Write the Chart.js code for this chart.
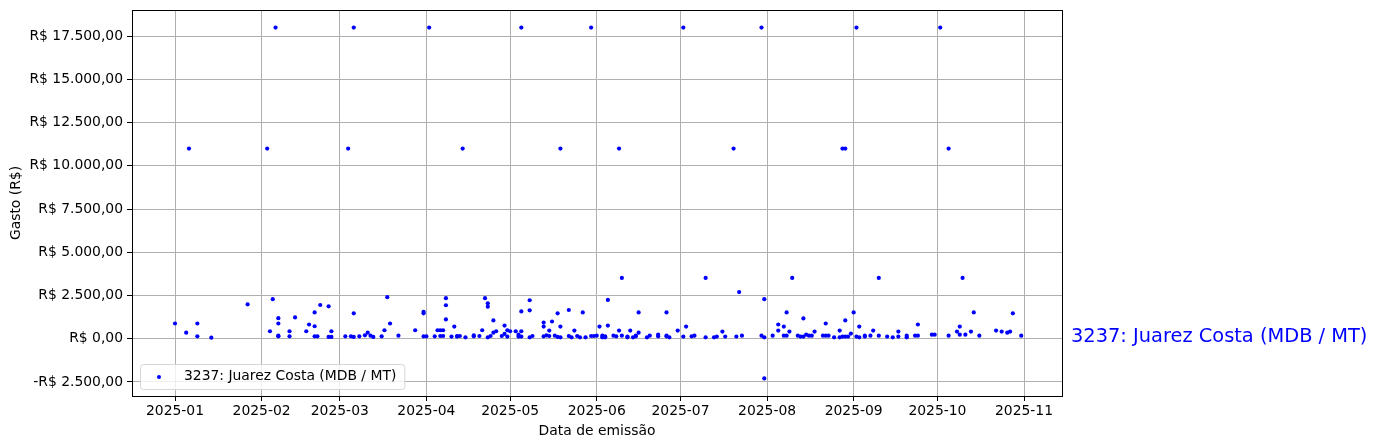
<!DOCTYPE html>
<html>
<head>
<meta charset="utf-8">
<script src="https://cdn.jsdelivr.net/npm/chart.js@4.4.0/dist/chart.umd.min.js"></script>
<style>
  html, body { margin: 0; padding: 0; background: #fff; }
  #wrap { width: 1378px; height: 448px; }
</style>
</head>
<body>
<div id="wrap"><canvas id="chart" width="1378" height="448"></canvas></div>
<script>
const seriesName = '3237: Juarez Costa (MDB / MT)';

const emissionDates = [
  '2025-01-01','2025-01-05','2025-01-06','2025-01-09','2025-01-09','2025-01-14','2025-01-27',
  '2025-02-03','2025-02-04','2025-02-05','2025-02-06','2025-02-07','2025-02-07','2025-02-07','2025-02-07',
  '2025-02-11','2025-02-11','2025-02-13','2025-02-17','2025-02-18','2025-02-20','2025-02-20','2025-02-20',
  '2025-02-21','2025-02-22','2025-02-25','2025-02-25','2025-02-26','2025-02-26',
  '2025-03-03','2025-03-04','2025-03-05','2025-03-06','2025-03-06','2025-03-06','2025-03-08','2025-03-10',
  '2025-03-11','2025-03-12','2025-03-13','2025-03-16','2025-03-17','2025-03-18','2025-03-19','2025-03-22',
  '2025-03-28','2025-03-31','2025-03-31','2025-03-31',
  '2025-04-01','2025-04-02','2025-04-04','2025-04-05','2025-04-06','2025-04-06','2025-04-07','2025-04-07',
  '2025-04-08','2025-04-08','2025-04-08','2025-04-10','2025-04-11','2025-04-12','2025-04-12','2025-04-13',
  '2025-04-14','2025-04-15','2025-04-18','2025-04-18','2025-04-20','2025-04-21','2025-04-22','2025-04-23',
  '2025-04-23','2025-04-23','2025-04-24','2025-04-25','2025-04-25','2025-04-26','2025-04-28','2025-04-29',
  '2025-04-29','2025-04-30','2025-04-30',
  '2025-05-01','2025-05-03','2025-05-04','2025-05-04','2025-05-05','2025-05-05','2025-05-05','2025-05-05',
  '2025-05-08','2025-05-08','2025-05-08','2025-05-09','2025-05-13','2025-05-13','2025-05-13','2025-05-14',
  '2025-05-15','2025-05-15','2025-05-16','2025-05-17','2025-05-18','2025-05-18','2025-05-19','2025-05-19',
  '2025-05-19','2025-05-22','2025-05-22','2025-05-23','2025-05-24','2025-05-25','2025-05-26','2025-05-27',
  '2025-05-28','2025-05-30','2025-05-30','2025-05-31',
  '2025-06-01','2025-06-02','2025-06-03','2025-06-03','2025-06-04','2025-06-04','2025-06-05','2025-06-05',
  '2025-06-07','2025-06-08','2025-06-09','2025-06-09','2025-06-10','2025-06-10','2025-06-12','2025-06-12',
  '2025-06-13','2025-06-14','2025-06-15','2025-06-15','2025-06-16','2025-06-16','2025-06-19','2025-06-20',
  '2025-06-23','2025-06-23','2025-06-26','2025-06-26','2025-06-27','2025-06-26','2025-06-30',
  '2025-07-02','2025-07-02','2025-07-03','2025-07-05','2025-07-06','2025-07-10','2025-07-10','2025-07-13',
  '2025-07-14','2025-07-16','2025-07-17','2025-07-20','2025-07-21','2025-07-22','2025-07-23','2025-07-30',
  '2025-07-30','2025-07-31','2025-07-31','2025-07-31',
  '2025-08-03','2025-08-05','2025-08-05','2025-08-07','2025-08-07','2025-08-08','2025-08-08','2025-08-09',
  '2025-08-10','2025-08-12','2025-08-13','2025-08-14','2025-08-14','2025-08-15','2025-08-16','2025-08-17',
  '2025-08-18','2025-08-21','2025-08-22','2025-08-22','2025-08-23','2025-08-25','2025-08-27','2025-08-27',
  '2025-08-28','2025-08-28','2025-08-29','2025-08-29','2025-08-29','2025-08-30','2025-08-31',
  '2025-09-01','2025-09-02','2025-09-02','2025-09-03','2025-09-03','2025-09-05','2025-09-05','2025-09-07',
  '2025-09-08','2025-09-10','2025-09-10','2025-09-13','2025-09-15','2025-09-17','2025-09-17','2025-09-20',
  '2025-09-20','2025-09-23','2025-09-24','2025-09-24','2025-09-29','2025-09-30',
  '2025-10-02','2025-10-05','2025-10-05','2025-10-08','2025-10-09','2025-10-09','2025-10-10','2025-10-11',
  '2025-10-13','2025-10-14','2025-10-16','2025-10-22','2025-10-24','2025-10-26','2025-10-27','2025-10-28',
  '2025-10-31'
];

const amounts = [
  880, 350, 11000, 880, 140, 60, 1990,
  11000, 430, 2285, 18000, 1190, 880, 175, 140,
  430, 140, 1230, 430, 820, 1520, 720, 140,
  140, 1950, 1875, 100, 430, 100,
  140, 11000, 140, 100, 1465, 18000, 140, 195,
  350, 175, 100, 140, 490, 2400, 880, 175,
  490, 1560, 1465, 140,
  140, 18000, 140, 490, 490, 155, 490, 155,
  2345, 1935, 1115, 120, 700, 120, 155, 155,
  11000, 80, 195, 140, 155, 490, 2345, 2050,
  1855, 80, 155, 1055, 350, 430, 155, 760,
  275, 120, 490,
  430, 430, 235, 120, 18000, 1580, 430, 120,
  2225, 1640, 80, 155, 700, 935, 140, 195,
  155, 470, 995, 175, 1465, 100, 11000, 80,
  700, 1660, 155, 80, 470, 155, 80, 1520,
  80, 18000, 155, 155,
  175, 700, 80, 175, 80, 140, 2245, 760,
  175, 140, 11000, 470, 3515, 175, 120, 80,
  470, 80, 140, 175, 350, 1520, 80, 175,
  235, 140, 175, 140, 80, 1520, 470,
  120, 18000, 700, 140, 175, 3515, 80, 80,
  120, 410, 120, 11000, 120, 2695, 175, 18000,
  175, 2285, 80, -2300,
  175, 820, 470, 700, 175, 175, 1520, 410,
  3515, 175, 120, 120, 1170, 235, 175, 175,
  410, 175, 175, 880, 175, 80, 80, 470,
  120, 11000, 11000, 120, 1055, 120, 295,
  1520, 18000, 120, 700, 80, 175, 120, 175,
  470, 3515, 175, 120, 80, 120, 410, 175,
  80, 175, 175, 820, 235, 235,
  18000, 11000, 175, 410, 700, 235, 3515, 235,
  410, 1520, 175, 470, 410, 350, 410, 1465,
  175
];

const monthTicks = ['2025-01-01','2025-02-01','2025-03-01','2025-04-01','2025-05-01','2025-06-01',
  '2025-07-01','2025-08-01','2025-09-01','2025-10-01','2025-11-01'];
const yTicks = [-2500, 0, 2500, 5000, 7500, 10000, 12500, 15000, 17500];

const DAY = 864e5;
const origin = Date.UTC(2025, 0, 1);
const toDay = s => {
  const [y, m, d] = s.split('-').map(Number);
  return (Date.UTC(y, m - 1, d) - origin) / DAY;
};
const monthDays = monthTicks.map(toDay);

const formatBRL = v => {
  const abs = Math.abs(v);
  const whole = Math.floor(abs).toString().replace(/\B(?=(\d{3})+(?!\d))/g, '.');
  const cents = Math.round((abs - Math.floor(abs)) * 100).toString().padStart(2, '0');
  return (v < 0 ? '-' : '') + 'R$ ' + whole + ',' + cents;
};

const FONT = 'DejaVu Sans';
Chart.defaults.font.family = FONT;
Chart.defaults.font.size = 13.9;
Chart.defaults.color = '#000';

// frame, in-axes legend and the label right of the axes
const decorations = {
  id: 'decorations',
  afterDraw(chart) {
    const { ctx, chartArea: a } = chart;
    ctx.save();
    ctx.strokeStyle = '#000';
    ctx.lineWidth = 1;
    ctx.strokeRect(Math.round(a.left) + 0.5, Math.round(a.top) + 0.5,
      Math.round(a.right - a.left), Math.round(a.bottom - a.top));

    // legend box
    ctx.font = '13.9px ' + FONT;
    const tw = ctx.measureText(seriesName).width;
    const bx = a.left + 8, by = a.bottom - 32, bw = tw + 52, bh = 25;
    ctx.beginPath();
    ctx.roundRect(bx + 0.5, by + 0.5, bw, bh, 3);
    ctx.fillStyle = 'rgba(255,255,255,0.8)';
    ctx.fill();
    ctx.strokeStyle = '#d6d6d6';
    ctx.stroke();
    ctx.fillStyle = '#0000ff';
    ctx.beginPath();
    ctx.arc(bx + 19, by + 13, 2, 0, Math.PI * 2);
    ctx.fill();
    ctx.fillStyle = '#000';
    ctx.textBaseline = 'middle';
    ctx.fillText(seriesName, bx + 44, by + 12);

    // outside label
    const yScale = chart.scales.y;
    ctx.font = '19.4px ' + FONT;
    ctx.fillStyle = '#0000ff';
    ctx.fillText(seriesName, a.right + 9, yScale.getPixelForValue(amounts[amounts.length - 1]) + 1);
    ctx.restore();
  }
};

new Chart(document.getElementById('chart'), {
  type: 'scatter',
  data: {
    datasets: [{
      label: seriesName,
      data: emissionDates.map((d, i) => ({ x: toDay(d), y: amounts[i] })),
      pointRadius: 2.1,
      pointBorderWidth: 0,
      pointBackgroundColor: '#0000ff',
      pointHoverRadius: 2.1
    }]
  },
  options: {
    responsive: false,
    animation: false,
    layout: { padding: { left: 0, right: 316, top: 10, bottom: 0 } },
    plugins: { legend: { display: false }, tooltip: { enabled: false } },
    scales: {
      x: {
        type: 'linear',
        min: -15.4,
        max: 317.6,
        afterBuildTicks: s => { s.ticks = monthDays.map(v => ({ value: v })); },
        afterFit: s => { s.height = 52; s.paddingLeft = 0; s.paddingRight = 0; },
        ticks: {
          autoSkip: false,
          maxRotation: 0,
          padding: 2,
          callback: v => {
            const i = monthDays.indexOf(v);
            return i >= 0 ? monthTicks[i].slice(0, 7) : '';
          }
        },
        grid: { color: '#b0b0b0', tickColor: '#000', tickLength: 5 },
        border: { color: '#000' },
        title: { display: true, text: 'Data de emissão', padding: { top: 0, bottom: 8 } }
      },
      y: {
        min: -3315,
        max: 19015,
        afterBuildTicks: s => { s.ticks = yTicks.map(v => ({ value: v })); },
        afterFit: s => { s.width = 132; s.paddingTop = 0; s.paddingBottom = 0; },
        ticks: { padding: 4, callback: v => formatBRL(v) },
        grid: { color: '#b0b0b0', tickColor: '#000', tickLength: 5 },
        border: { color: '#000' },
        title: { display: true, text: 'Gasto (R$)', padding: { top: 8, bottom: 0 } }
      }
    }
  },
  plugins: [decorations]
});
</script>
</body>
</html>
